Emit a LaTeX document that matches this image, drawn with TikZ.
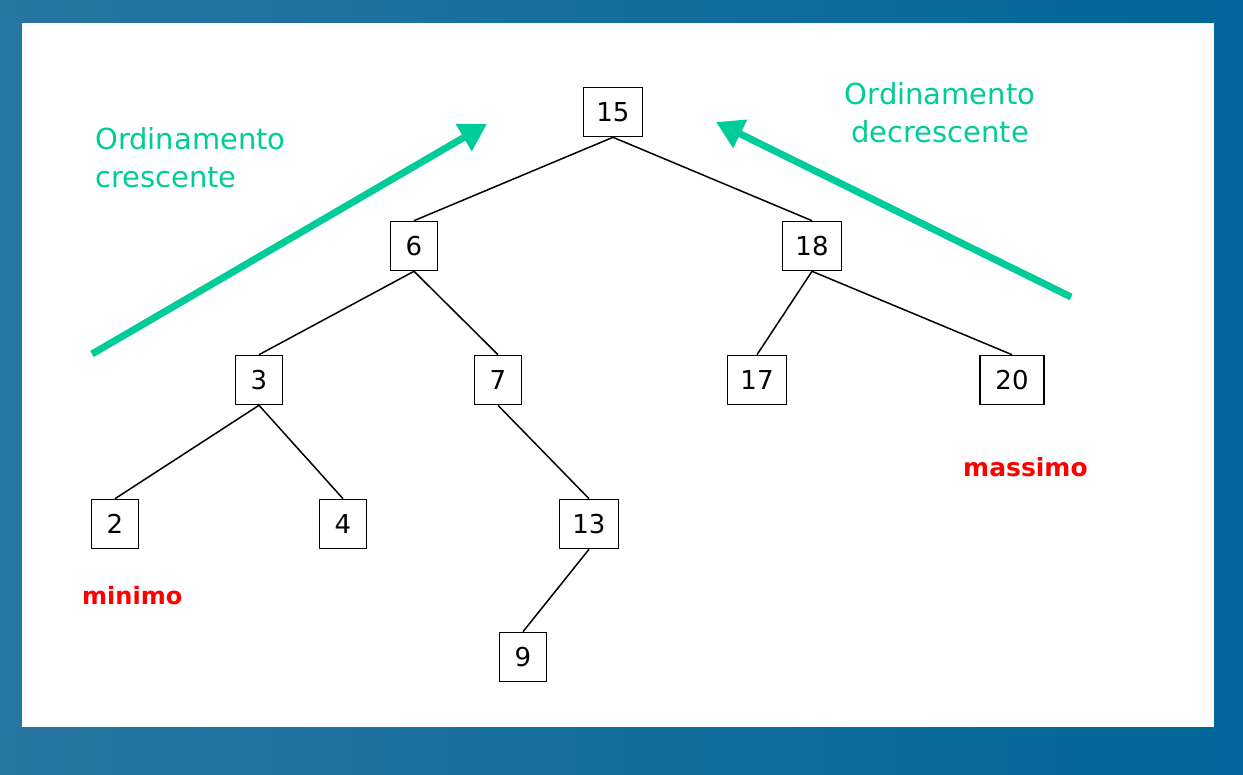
\documentclass[tikz,border=0pt]{standalone}
\usepackage{fontspec}
\setmainfont{DejaVu Sans}
\usetikzlibrary{arrows.meta}
\definecolor{bgdark}{RGB}{0,102,153}
\definecolor{bglight}{RGB}{40,118,162}
\definecolor{arrowgreen}{RGB}{0,204,153}
\definecolor{labelred}{RGB}{255,0,0}
\tikzset{
  keybox/.style={draw=black, line width=1.6pt, fill=white, minimum height=49pt,
    minimum width=47pt, inner sep=0pt, font=\fontsize{26}{30}\selectfont},
  wide/.style={minimum width=59pt},
  treeedge/.style={draw=black, line width=1.5pt},
  orderarrow/.style={draw=arrowgreen, line width=7pt,
    -{Triangle[length=27pt,width=30pt]}},
  ordertext/.style={text=arrowgreen, font=\fontsize{29}{38}\selectfont, inner sep=0pt},
  extremetext/.style={text=labelred, font=\bfseries\fontsize{24}{28}\selectfont, inner sep=0pt}
}
\begin{document}
\begin{tikzpicture}[x=1pt, y=-1pt]
  \useasboundingbox (0,0) rectangle (1243,775);
  % slide background and white panel
  \shade[left color=bglight, right color=bgdark] (0,0) rectangle (1243,775);
  \fill[white] (22,23) rectangle (1214,727);

  % tree keys
  \node[keybox, wide] (n15) at (613,112) {15};
  \node[keybox] (n6) at (414,246) {6};
  \node[keybox, wide] (n18) at (812,246) {18};
  \node[keybox] (n3) at (259,380) {3};
  \node[keybox] (n7) at (498,380) {7};
  \node[keybox, wide] (n17) at (757,380) {17};
  \node[keybox, minimum width=64pt] (n20) at (1012,380) {20};
  \node[keybox] (n2) at (115,524) {2};
  \node[keybox] (n4) at (343,524) {4};
  \node[keybox, wide] (n13) at (589,524) {13};
  \node[keybox] (n9) at (523,657) {9};

  % parent-child links
  \draw[treeedge] (n15.south) -- (n6.north);
  \draw[treeedge] (n15.south) -- (n18.north);
  \draw[treeedge] (n6.south) -- (n3.north);
  \draw[treeedge] (n6.south) -- (n7.north);
  \draw[treeedge] (n18.south) -- (n17.north);
  \draw[treeedge] (n18.south) -- (n20.north);
  \draw[treeedge] (n3.south) -- (n2.north);
  \draw[treeedge] (n3.south) -- (n4.north);
  \draw[treeedge] (n7.south) -- (n13.north);
  \draw[treeedge] (n13.south) -- (n9.north);

  % ordering arrows
  \coordinate (ascstart) at (92,354);
  \coordinate (ascend) at (487,124);
  \coordinate (descstart) at (1071,297);
  \coordinate (descend) at (716,122);
  \draw[orderarrow] (ascstart) -- (ascend);
  \draw[orderarrow] (descstart) -- (descend);

  % captions (anchored on the baseline of their last line)
  \node[ordertext, anchor=base west, align=left] (asc) at (95,188)
    {Ordinamento\\crescente};
  \node[ordertext, anchor=base, align=center] (desc) at (940,143)
    {Ordinamento\\decrescente};
  \node[extremetext, anchor=base west] (minlabel) at (82,604) {minimo};
  \node[extremetext, anchor=base west, font=\bfseries\fontsize{25}{28}\selectfont]
    (maxlabel) at (963,477) {massimo};
\end{tikzpicture}
\end{document}
